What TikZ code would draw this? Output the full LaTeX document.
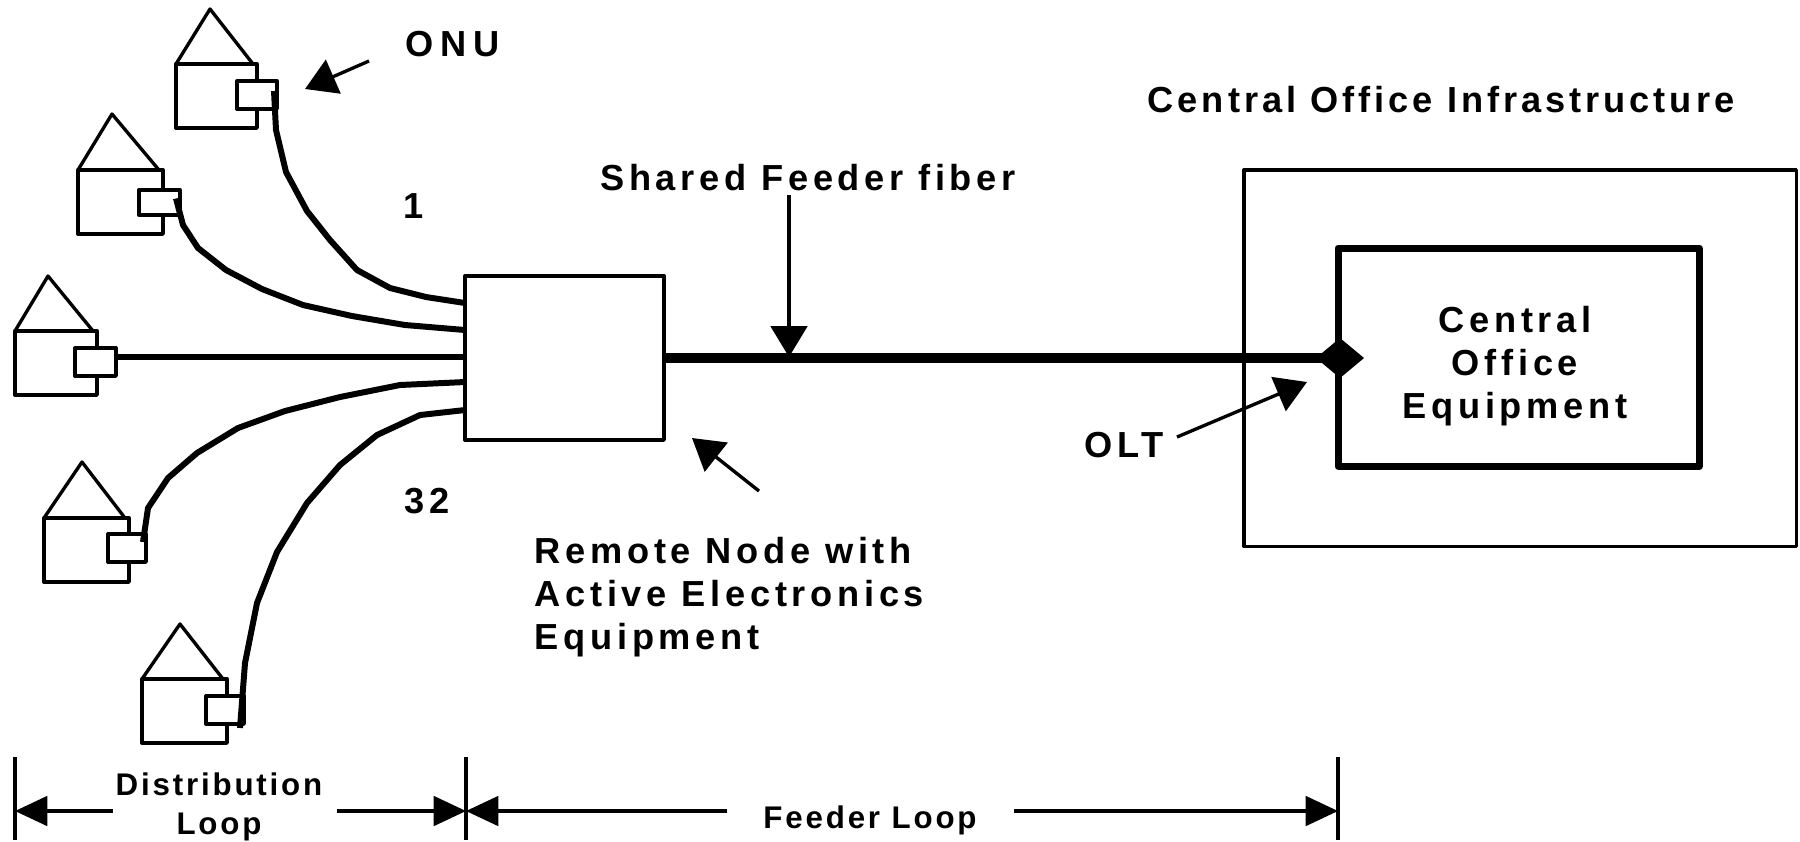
\documentclass[tikz,border=0pt]{standalone}
\usepackage{fontspec}
\usetikzlibrary{arrows.meta,shapes.geometric}
\newfontfamily\labelfont[LetterSpace=13]{Liberation Sans}
\tikzset{
	thinline/.style={line width=0.95pt,line join=round},
	fiber/.style={line width=1.7pt,line join=round},
	feeder/.style={line width=2.8pt},
	housebox/.style={draw,thinline,anchor=north west,inner sep=0pt,outer sep=0pt,minimum height=0.64cm},
	onubox/.style={draw,thinline,fill=white,anchor=north west,inner sep=0pt,outer sep=0pt},
	plainbox/.style={draw,thinline,anchor=north west,inner sep=0pt,outer sep=0pt},
	pointer/.style={thinline,-{Triangle[length=8.8pt,width=10.4pt]}},
	dimarrow/.style={thinline,-{Triangle[length=9.2pt,width=8.4pt]}},
	biglabel/.style={font=\labelfont\bfseries\fontsize{10.3}{12.2}\selectfont,inner sep=0pt},
	smalllabel/.style={font=\labelfont\bfseries\fontsize{8.9}{11}\selectfont\addfontfeature{LetterSpace=9},inner sep=0pt,align=center},
}
\begin{document}
\begin{tikzpicture}[x=0.01cm,y=-0.01cm]
		\useasboundingbox (0,0) rectangle (1800,841);
		\foreach \n/\x/\y/\w/\ax/\ay/\ox/\oy/\ow/\oh in {1/176/64/81/210/9/237/81/40/28, 2/78/170/85/112/114/139/190/41/25, 3/15/331/82/48/276/75/348/41/28, 4/44/518/85/82/462/108/534/38/28, 5/142/679/85/180/624/206/696/38/28} {
			\node[housebox,minimum width=\w*0.01cm] (house\n) at (\x,\y) {};
			\coordinate (apex\n) at (\ax,\ay);
			\draw[thinline] (house\n.north west) -- (apex\n) -- ([xshift=-0.04cm]house\n.north east);
			\node[onubox,minimum width=\ow*0.01cm,minimum height=\oh*0.01cm] (onu\n) at (\ox,\oy) {};
		}
		\node[plainbox,minimum width=1.99cm,minimum height=1.64cm] (remote) at (465,276) {};
		\node[plainbox,minimum width=5.52cm,minimum height=3.76cm] (infra) at (1244,170) {};
		\node[plainbox,line width=2pt,minimum width=3.61cm,minimum height=2.18cm] (coe) at (1338,248) {};
		\node[diamond,fill=black,inner sep=0pt,outer sep=0pt,minimum width=0.48cm,minimum height=0.4cm] (olt) at (1340,358) {};
		\draw[fiber] ([shift={(-3,-4)}]onu1.east) -- (276,130) -- (286,172) -- (307,211) -- (330,240) -- (357,270) -- (390,288) -- (426,297) -- (remote.west |- 0,303);
		\draw[fiber] ([shift={(-4,-4)}]onu2.east) -- (183,225) -- (198,248) -- (226,270) -- (262,289) -- (303,305) -- (352,316) -- (405,325) -- (remote.west |- 0,330);
		\draw[line width=1.8pt] (onu3.east |- 0,357) -- (remote.west |- 0,357);
		\draw[fiber] ([shift={(-3,-6)}]onu4.east) -- (148,508) -- (168,478) -- (197,453) -- (238,428) -- (285,411) -- (340,397) -- (400,385) -- (remote.west |- 0,382);
		\draw[fiber] ([shift={(-4,4)}]onu5.south east) -- (245,663) -- (257,603) -- (277,552) -- (307,503) -- (340,465) -- (377,435) -- (420,415) -- (remote.west |- 0,410);
		\draw[feeder] (remote.east |- olt.center) -- (olt.center);
		\node[biglabel] (onulabel) at (453,44) {\addfontfeature{LetterSpace=19}ONU};
		\node[biglabel] (onefirst) at (414,206) {1};
		\node[biglabel] (lastone) at (427,501) {32};
		\node[biglabel] (sharedlabel) at (808,178) {Shared Feeder fiber};
		\node[biglabel] (infralabel) at (1441,100) {\addfontfeature{LetterSpace=11}Central Office Infrastructure};
		\node[biglabel,align=center] (coelabel) at (1515,366) {Central\\Office\\Equipment};
		\node[biglabel] (oltlabel) at (1124,445) {OLT};
		\node[biglabel,align=left,anchor=north west] (remotelabel) at (534,537) {Remote Node with\\Active Electronics\\Equipment};
		\node[smalllabel] (distlabel) at (219,807) {Distribution\\Loop};
		\node[smalllabel] (feederlabel) at (870,820) {Feeder Loop};
		\coordinate (onutail) at (369,61);
		\coordinate (onutip) at (305,89);
		\coordinate (sharedtail) at (789,195);
		\coordinate (sharedtip) at (789,357);
		\coordinate (remotetail) at (759,491);
		\coordinate (remotetip) at (692,438);
		\coordinate (olttail) at (1177,437);
		\coordinate (olttip) at (1307,382);
		\draw[pointer] (onutail) -- (onutip);
		\draw[pointer] (sharedtail) -- (sharedtip);
		\draw[pointer] (remotetail) -- (remotetip);
		\draw[pointer] (olttail) -- (olttip);
		\coordinate (tickA) at (15,757);
		\coordinate (tickB) at (466,757);
		\coordinate (tickC) at (1338,757);
		\foreach \t in {tickA,tickB,tickC} \draw[thinline] (\t) -- ++(0,83);
		\coordinate (distleft) at (113,811);
		\coordinate (distright) at (337,811);
		\coordinate (feedleft) at (727,811);
		\coordinate (feedright) at (1014,811);
		\draw[dimarrow] (distleft) -- (distleft -| tickA);
		\draw[dimarrow] (distright) -- (distright -| tickB);
		\draw[dimarrow] (feedleft) -- (feedleft -| tickB);
		\draw[dimarrow] (feedright) -- (feedright -| tickC);
	\end{tikzpicture}
\end{document}
